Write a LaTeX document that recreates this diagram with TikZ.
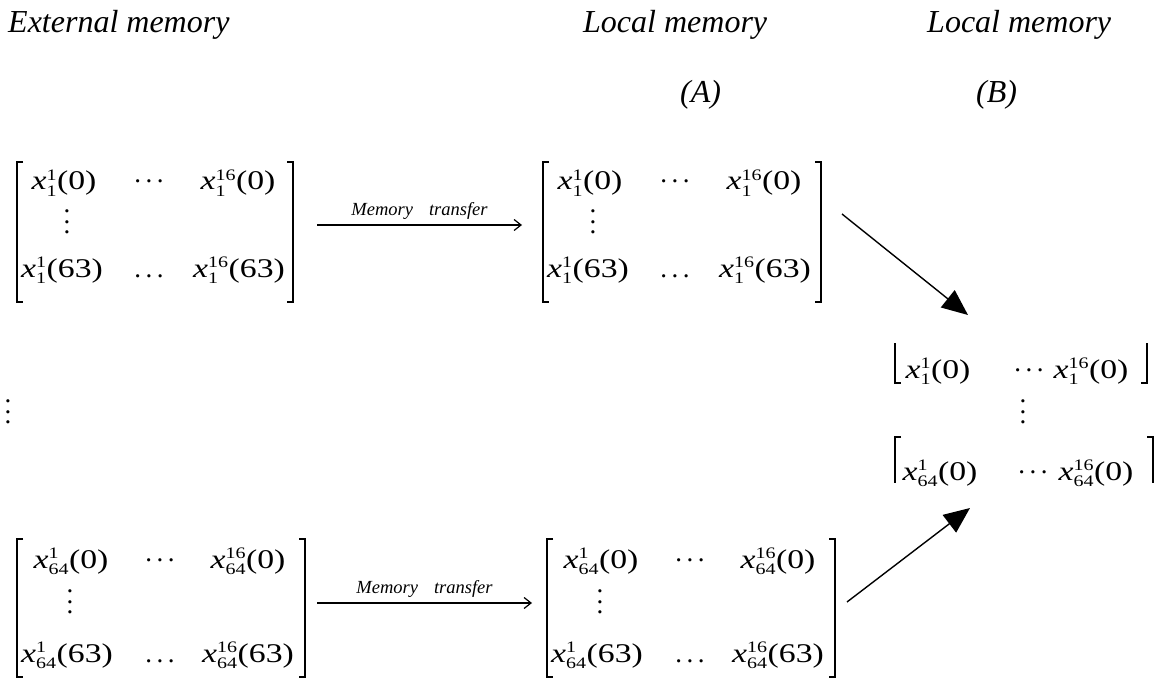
\documentclass[tikz,border=0pt]{standalone}
\usepackage{fontspec}
\usepackage{graphicx}
\setmainfont{Liberation Serif}
\usetikzlibrary{arrows.meta}

% matrix entry x_{sub}^{sup}(arg), stretched horizontally
\newcommand{\scrpt}[1]{\mbox{\fontsize{16}{16}\selectfont #1}}
\newcommand{\xe}[3]{\scalebox{1.25}[1]{\textit{x}$^{\scrpt{#2}}_{\scrpt{#1}}$(#3)}}
% dots made of full-size periods
\newcommand{\hdt}{.\kern4.5pt.\kern4.5pt.}
\newcommand{\cdt}{\raisebox{7pt}{\hdt}}
\newcommand{\vdt}{\vbox{\baselineskip=10.5pt\lineskiplimit=-50pt\hbox{.}\hbox{.}\hbox{.}}}

\tikzset{
  head/.style={font=\fontsize{32}{38}\selectfont\itshape, inner sep=0pt, anchor=base west},
  entry/.style={font=\fontsize{27}{32}\selectfont, inner sep=0pt, anchor=base},
  vdot/.style={font=\fontsize{27}{32}\selectfont, inner sep=0pt, anchor=center},
  frame/.style={inner sep=0pt, outer sep=0pt, draw=none},
  brk/.style={line width=1.4pt},
  xfer/.style={line width=1.2pt, -{Straight Barb[length=7pt,width=11pt,line width=1.2pt]}},
  xlabel/.style={font=\fontsize{18.5}{22}\selectfont\itshape, inner sep=0pt, anchor=base},
  feed/.style={line width=1.4pt, -{Triangle[length=26pt,width=22pt]}}
}

% square brackets on both sides of a frame node
\newcommand{\brackets}[1]{%
  \draw[brk] ([xshift=6pt]#1.north west) -- (#1.north west) -- (#1.south west) -- ([xshift=6pt]#1.south west);
  \draw[brk] ([xshift=-6pt]#1.north east) -- (#1.north east) -- (#1.south east) -- ([xshift=-6pt]#1.south east);
}

\begin{document}
\begin{tikzpicture}[x=1pt, y=-1pt]
\useasboundingbox (0,0) rectangle (1168,679);

% headings
\node[head] (hext) at (8,33) {External memory};
\node[head] (hloca) at (583,33) {Local memory};
\node[head] (hlocb) at (927,33) {Local memory};
\node[head] (hA) at (680,103) {(A)};
\node[head] (hB) at (976,103) {(B)};

% frames of the four block matrices
\node[frame, minimum width=276pt, minimum height=140pt] (m1) at (155,232) {};
\node[frame, minimum width=278pt, minimum height=140pt] (m2) at (682,232) {};
\node[frame, minimum width=288pt, minimum height=138pt] (m3) at (161,608) {};
\node[frame, minimum width=288pt, minimum height=138pt] (m4) at (691,608) {};
\brackets{m1}
\brackets{m2}
\brackets{m3}
\brackets{m4}

% external memory, first block
\node[entry] (m1a) at (64,190) {\xe{1}{1}{0}};
\node[entry] (m1b) at (149,190) {\cdt};
\node[entry] (m1c) at (238,190) {\xe{1}{16}{0}};
\node[vdot]  (m1d) at (67,222) {\vdt};
\node[entry] (m1e) at (62,277) {\xe{1}{1}{63}};
\node[entry] (m1f) at (149,277) {\hdt};
\node[entry] (m1g) at (239,277) {\xe{1}{16}{63}};

% local memory (A), first block
\node[entry] (m2a) at (590,190) {\xe{1}{1}{0}};
\node[entry] (m2b) at (675,190) {\cdt};
\node[entry] (m2c) at (764,190) {\xe{1}{16}{0}};
\node[vdot]  (m2d) at (593,222) {\vdt};
\node[entry] (m2e) at (588,277) {\xe{1}{1}{63}};
\node[entry] (m2f) at (675,277) {\hdt};
\node[entry] (m2g) at (765,277) {\xe{1}{16}{63}};

% external memory, last block
\node[entry] (m3a) at (71,568) {\xe{64}{1}{0}};
\node[entry] (m3b) at (160,568) {\cdt};
\node[entry] (m3c) at (248,568) {\xe{64}{16}{0}};
\node[vdot]  (m3d) at (70,602) {\vdt};
\node[entry] (m3e) at (67,662) {\xe{64}{1}{63}};
\node[entry] (m3f) at (160,662) {\hdt};
\node[entry] (m3g) at (248,662) {\xe{64}{16}{63}};

% local memory (A), last block
\node[entry] (m4a) at (601,568) {\xe{64}{1}{0}};
\node[entry] (m4b) at (690,568) {\cdt};
\node[entry] (m4c) at (778,568) {\xe{64}{16}{0}};
\node[vdot]  (m4d) at (600,602) {\vdt};
\node[entry] (m4e) at (597,662) {\xe{64}{1}{63}};
\node[entry] (m4f) at (690,662) {\hdt};
\node[entry] (m4g) at (778,662) {\xe{64}{16}{63}};

% gap between the blocks
\node[vdot] (gap) at (8,412) {\vdt};

% local memory (B): first rows of all blocks
\node[frame, minimum width=252pt, minimum height=40pt] (b1) at (1021,363) {};
\node[frame, minimum width=258pt, minimum height=46pt] (b3) at (1024,460) {};
\draw[brk] (b1.north west) -- (b1.south west) -- ([xshift=6pt]b1.south west);
\draw[brk] (b1.north east) -- (b1.south east) -- ([xshift=-6pt]b1.south east);
\draw[brk] ([xshift=6pt]b3.north west) -- (b3.north west) -- (b3.south west);
\draw[brk] ([xshift=-6pt]b3.north east) -- (b3.north east) -- (b3.south east);
\node[entry] (ba) at (938,378) {\xe{1}{1}{0}};
\node[entry] (bb) at (1029,378) {\cdt};
\node[entry] (bc) at (1091,378) {\xe{1}{16}{0}};
\node[vdot]  (bd) at (1023,412) {\vdt};
\node[entry] (be) at (940,480) {\xe{64}{1}{0}};
\node[entry] (bf) at (1033,480) {\cdt};
\node[entry] (bg) at (1096,480) {\xe{64}{16}{0}};

% transfers from external to local memory
\draw[xfer] ([xshift=24pt,yshift=7pt]m1.east) -- node[xlabel, above=5pt] (t1) {Memory\hspace{16pt}transfer} ([xshift=-21pt,yshift=7pt]m2.west);
\draw[xfer] ([xshift=12pt,yshift=5pt]m3.east) -- node[xlabel, above=5pt] (t2) {Memory\hspace{16pt}transfer} ([xshift=-15pt,yshift=5pt]m4.west);

% gathering of the first rows into (B)
\draw[feed] ([xshift=21pt,yshift=18pt]m2.east) -- ([xshift=-53pt,yshift=28pt]b1.north);
\draw[feed] ([xshift=12pt,yshift=6pt]m4.east) -- ([xshift=-54pt,yshift=-25pt]b3.south);
\end{tikzpicture}
\end{document}
